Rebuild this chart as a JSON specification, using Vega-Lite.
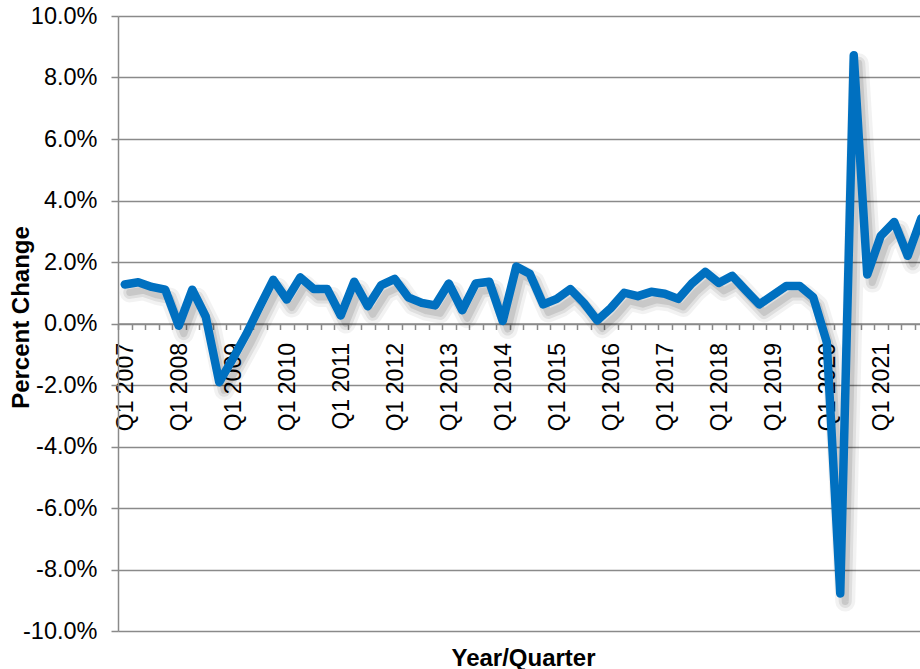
{
  "$schema": "https://vega.github.io/schema/vega-lite/v6.json",
  "width": 802,
  "height": 615,
  "autosize": "none",
  "padding": {"left": 118, "top": 16, "right": 0, "bottom": 38},
  "background": "white",
  "config": {"view": {"stroke": null}, "font": "Liberation Sans"},
  "data": {"values": [
    {"q": "Q1 2007", "v": 1.27}, {"q": "Q2 2007", "v": 1.34}, {"q": "Q3 2007", "v": 1.19}, {"q": "Q4 2007", "v": 1.10},
    {"q": "Q1 2008", "v": -0.07}, {"q": "Q2 2008", "v": 1.10}, {"q": "Q3 2008", "v": 0.22}, {"q": "Q4 2008", "v": -1.91},
    {"q": "Q1 2009", "v": -1.15}, {"q": "Q2 2009", "v": -0.35}, {"q": "Q3 2009", "v": 0.55}, {"q": "Q4 2009", "v": 1.42},
    {"q": "Q1 2010", "v": 0.78}, {"q": "Q2 2010", "v": 1.50}, {"q": "Q3 2010", "v": 1.12}, {"q": "Q4 2010", "v": 1.12},
    {"q": "Q1 2011", "v": 0.26}, {"q": "Q2 2011", "v": 1.36}, {"q": "Q3 2011", "v": 0.56}, {"q": "Q4 2011", "v": 1.25},
    {"q": "Q1 2012", "v": 1.45}, {"q": "Q2 2012", "v": 0.85}, {"q": "Q3 2012", "v": 0.67}, {"q": "Q4 2012", "v": 0.59},
    {"q": "Q1 2013", "v": 1.30}, {"q": "Q2 2013", "v": 0.43}, {"q": "Q3 2013", "v": 1.30}, {"q": "Q4 2013", "v": 1.36},
    {"q": "Q1 2014", "v": 0.08}, {"q": "Q2 2014", "v": 1.85}, {"q": "Q3 2014", "v": 1.62}, {"q": "Q4 2014", "v": 0.62},
    {"q": "Q1 2015", "v": 0.80}, {"q": "Q2 2015", "v": 1.12}, {"q": "Q3 2015", "v": 0.67}, {"q": "Q4 2015", "v": 0.10},
    {"q": "Q1 2016", "v": 0.50}, {"q": "Q2 2016", "v": 1.00}, {"q": "Q3 2016", "v": 0.89}, {"q": "Q4 2016", "v": 1.03},
    {"q": "Q1 2017", "v": 0.97}, {"q": "Q2 2017", "v": 0.80}, {"q": "Q3 2017", "v": 1.30}, {"q": "Q4 2017", "v": 1.68},
    {"q": "Q1 2018", "v": 1.32}, {"q": "Q2 2018", "v": 1.55}, {"q": "Q3 2018", "v": 1.08}, {"q": "Q4 2018", "v": 0.62},
    {"q": "Q1 2019", "v": 0.92}, {"q": "Q2 2019", "v": 1.22}, {"q": "Q3 2019", "v": 1.22}, {"q": "Q4 2019", "v": 0.85},
    {"q": "Q1 2020", "v": -0.60}, {"q": "Q2 2020", "v": -8.78}, {"q": "Q3 2020", "v": 8.72}, {"q": "Q4 2020", "v": 1.59},
    {"q": "Q1 2021", "v": 2.85}, {"q": "Q2 2021", "v": 3.30}, {"q": "Q3 2021", "v": 2.20}, {"q": "Q4 2021", "v": 3.42}
  ]},
  "encoding": {
    "x": {
      "field": "q", "type": "ordinal", "sort": null,
      "scale": {"type": "point", "padding": 0.5, "range": [0, 810]},
      "axis": {
        "title": "Year/Quarter", "orient": "bottom", "offset": -307.5,
        "domainColor": "#8a8a8a", "domainWidth": 1.5,
        "tickColor": "#8a8a8a", "tickWidth": 1.5, "tickSize": 6,
        "tickOffset": -6.75, "labelOffset": 7.5,
        "labelAngle": -90, "labelAlign": "right", "labelBaseline": "middle",
        "labelPadding": 13, "labelFontSize": 23, "labelColor": "#000000",
        "labelOverlap": false,
        "labelExpr": "substring(datum.label, 0, 2) == 'Q1' ? datum.label : ''",
        "titleFontSize": 24, "titleFontWeight": "bold", "titleColor": "#000000",
        "titleBaseline": "alphabetic", "titleY": 341.5,
        "grid": false
      }
    },
    "y": {
      "field": "v", "type": "quantitative",
      "scale": {"domain": [-10, 10], "nice": false, "zero": false},
      "axis": {
        "values": [-10, -8, -6, -4, -2, 0, 2, 4, 6, 8, 10],
        "labelExpr": "(datum.value < 0 ? '-' : '') + format(abs(datum.value), '.1f') + '%'",
        "labelFontSize": 23.5, "labelColor": "#000000", "labelPadding": 14,
        "tickSize": 7, "tickColor": "#8a8a8a", "tickWidth": 1.5,
        "domainColor": "#8a8a8a", "domainWidth": 1.5,
        "grid": true, "gridColor": "#8a8a8a", "gridWidth": 1.5,
        "title": "Percent Change", "titleFontSize": 24, "titleFontWeight": "bold", "titleColor": "#000000",
        "titleX": -90, "titleY": 301, "titleBaseline": "alphabetic"
      }
    }
  },
  "layer": [
    {"mark": {"type": "line", "color": "#000000", "opacity": 0.05, "strokeWidth": 20, "xOffset": 5, "yOffset": 8, "strokeCap": "round", "strokeJoin": "round"}},
    {"mark": {"type": "line", "color": "#000000", "opacity": 0.08, "strokeWidth": 13, "xOffset": 5, "yOffset": 8, "strokeCap": "round", "strokeJoin": "round"}},
    {"mark": {"type": "line", "color": "#000000", "opacity": 0.1, "strokeWidth": 7, "xOffset": 5, "yOffset": 8, "strokeCap": "round", "strokeJoin": "round"}},
    {"mark": {"type": "line", "color": "#0070C0", "strokeWidth": 8.5, "strokeCap": "round", "strokeJoin": "round"}}
  ]
}
